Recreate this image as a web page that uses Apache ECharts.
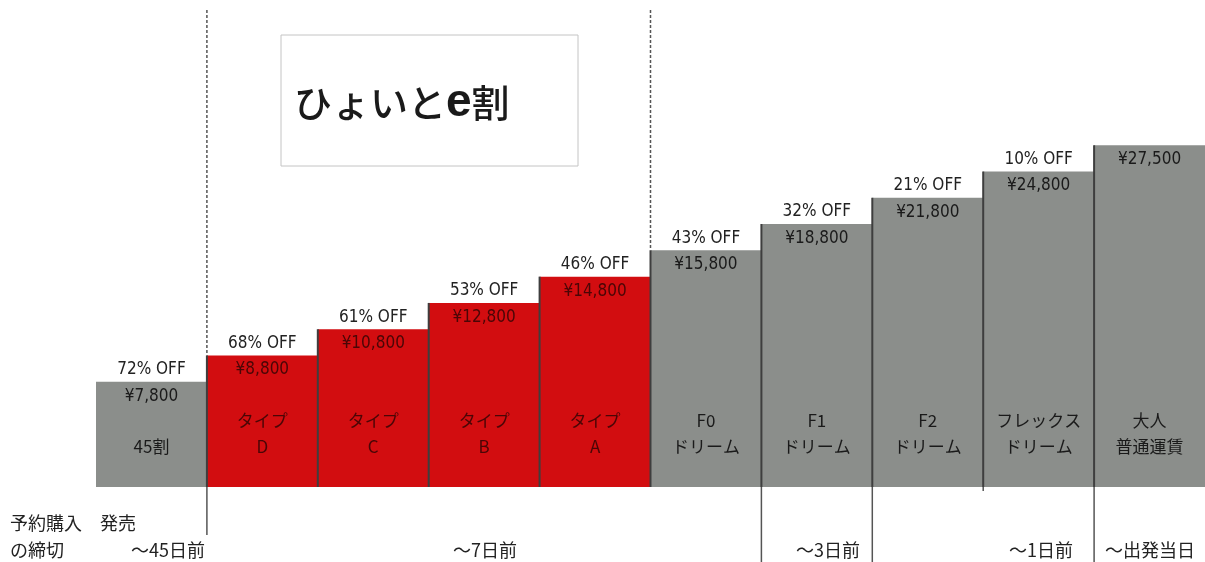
<!DOCTYPE html>
<html>
<head>
<meta charset="utf-8">
<script src="https://cdn.jsdelivr.net/npm/echarts@6/dist/echarts.min.js"></script>
<style>html,body{margin:0;padding:0;background:#fff;}#c{width:1205px;height:562px;}</style>
</head>
<body>
<div id="c"></div>
<script>
// ---- data ----
const categories = ['45割','タイプD','タイプC','タイプB','タイプA','F0ドリーム','F1ドリーム','F2ドリーム','フレックスドリーム','大人普通運賃'];
const nameTop = ['', 'タイプ','タイプ','タイプ','タイプ','F0','F1','F2','フレックス','大人'];
const nameBottom = ['45割','D','C','B','A','ドリーム','ドリーム','ドリーム','ドリーム','普通運賃'];
const prices = [7800, 8800, 10800, 12800, 14800, 15800, 18800, 21800, 24800, 27500];
const discounts = ['72% OFF','68% OFF','61% OFF','53% OFF','46% OFF','43% OFF','32% OFF','21% OFF','10% OFF',''];
const stepLevels = [4, 5, 6, 7, 8, 9, 10, 11, 12, 13];
const eWari = [false, true, true, true, true, false, false, false, false, false];
const dashedBefore = [1, 5];
const periodLabels = ['～45日前', '～7日前', '～3日前', '～1日前', '～出発当日'];

const RED = '#d20d10', GRAY = '#8b8e8b';
const TXT_GRAY = '#1a1a1a', TXT_RED = '#4a0606';
const NUM_FONT = '"Liberation Sans Narrow","DejaVu Sans Condensed","Liberation Sans",sans-serif';
const JP_FONT = '"Noto Sans CJK JP","Noto Sans",sans-serif';
const timelineDrop = {1: 48, 6: 80, 7: 80, 8: 4, 9: 80};

const chart = echarts.init(document.getElementById('c'));

const barData = stepLevels.map((v, i) => ({
  value: v,
  itemStyle: { color: eWari[i] ? RED : GRAY },
  label: { color: eWari[i] ? TXT_RED : TXT_GRAY }
}));

const bottomText = (x, y, text, align) => ({
  type: 'text', x: x, y: y,
  style: { text: text, fontFamily: JP_FONT, fontSize: 18, fill: '#222', align: align || 'left', verticalAlign: 'middle' }
});

chart.setOption({
  animation: false,
  backgroundColor: '#fff',
  grid: { left: 96, right: 0, top: 10, bottom: 75 },
  xAxis: {
    type: 'category', data: categories, show: false,
    axisTick: { show: false }, axisLine: { show: false }
  },
  yAxis: { type: 'value', min: 0, max: 18.14, show: false, splitLine: { show: false } },
  graphic: [
    { type: 'rect', shape: { x: 281, y: 35, width: 297, height: 131 },
      style: { fill: '#fff', stroke: '#c4c4c4', lineWidth: 1 }, z: 10 },
    { type: 'text', x: 294, y: 103, z: 11,
      style: { text: '{a|ひょいと}{b|e}{a|割}', verticalAlign: 'middle',
        rich: {
          a: { fontFamily: JP_FONT, fontSize: 38, fontWeight: 500, fill: '#1a1a1a' },
          b: { fontFamily: '"Liberation Sans",sans-serif', fontSize: 46, fontWeight: 'bold', fill: '#1a1a1a' }
        } } },
    bottomText(10, 523, '予約購入'),
    bottomText(100, 523, '発売'),
    bottomText(10, 550, 'の締切'),
    bottomText(205, 550, periodLabels[0], 'right'),
    bottomText(485, 550, periodLabels[1], 'center'),
    bottomText(860, 550, periodLabels[2], 'right'),
    bottomText(1073, 550, periodLabels[3], 'right'),
    bottomText(1150, 550, periodLabels[4], 'center')
  ],
  series: [
    {
      type: 'bar',
      data: barData,
      barCategoryGap: 0,
      barWidth: '100%',
      label: {
        show: true, position: 'insideTop', distance: 6,
        fontFamily: NUM_FONT, fontSize: 17,
        formatter: p => '¥' + prices[p.dataIndex].toLocaleString('en-US')
      },
      z: 2
    },
    {
      type: 'custom',
      data: stepLevels.map((v, i) => [i, v]),
      encode: { x: 0, y: 1 },
      z: 5,
      silent: true,
      renderItem: function (params, api) {
        const i = api.value(0), lvl = api.value(1);
        const top = api.coord([i, lvl]);
        const base = api.coord([i, 0]);
        const bw = api.size([1, 0])[0];
        const cx = top[0];
        const left = cx - bw / 2;
        const tc = eWari[i] ? TXT_RED : TXT_GRAY;
        const ch = [];
        if (i > 0) {
          ch.push({ type: 'line', shape: { x1: left, y1: top[1], x2: left, y2: base[1] },
            style: { stroke: '#3e3e3e', lineWidth: 2 } });
        }
        if (timelineDrop[i]) {
          ch.push({ type: 'line', shape: { x1: left, y1: base[1], x2: left, y2: base[1] + timelineDrop[i] },
            style: { stroke: '#555', lineWidth: 1.5 } });
        }
        if (dashedBefore.indexOf(i) >= 0) {
          ch.push({ type: 'line', shape: { x1: left, y1: params.coordSys.y, x2: left, y2: top[1] },
            style: { stroke: '#555', lineWidth: 1.5, lineDash: [3, 2] } });
        }
        if (discounts[i]) {
          ch.push({ type: 'text', x: cx, y: top[1] - 12,
            style: { text: discounts[i], fontFamily: NUM_FONT, fontSize: 17, fill: '#222', align: 'center', verticalAlign: 'middle' } });
        }
        if (nameTop[i]) {
          ch.push({ type: 'text', x: cx, y: base[1] - 66,
            style: { text: nameTop[i], fontFamily: JP_FONT, fontSize: 17, fill: tc, align: 'center', verticalAlign: 'middle' } });
        }
        ch.push({ type: 'text', x: cx, y: base[1] - 40,
          style: { text: nameBottom[i], fontFamily: JP_FONT, fontSize: 17, fill: tc, align: 'center', verticalAlign: 'middle' } });
        return { type: 'group', children: ch };
      }
    }
  ]
});
</script>
</body>
</html>
